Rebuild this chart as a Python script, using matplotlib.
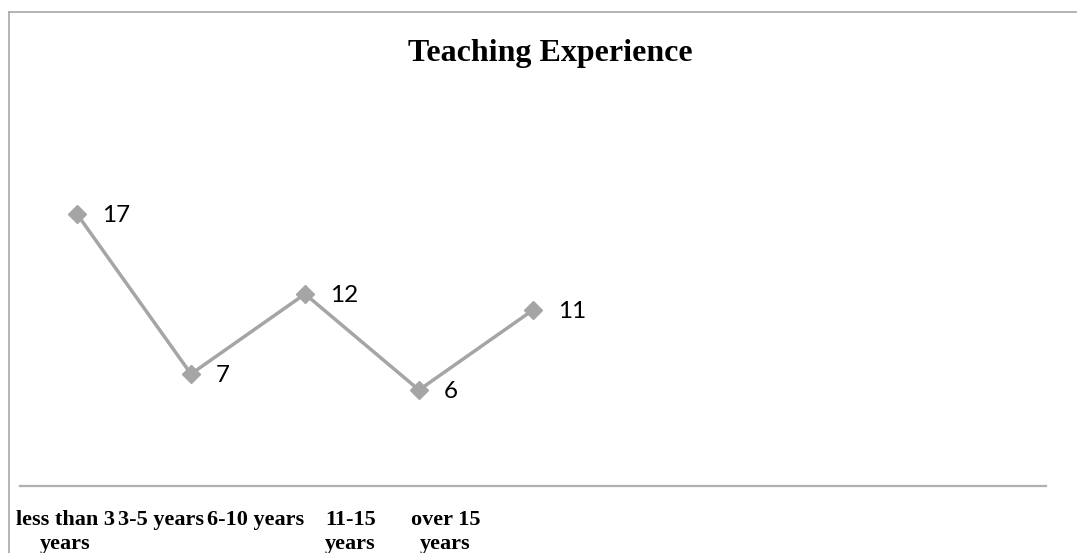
import numpy as np
import matplotlib
matplotlib.use('Agg')
import matplotlib.pyplot as plt
from matplotlib.lines import Line2D

# data
categories = ['less than 3\nyears', '3-5 years', '6-10 years', '11-15\nyears', 'over 15\nyears']
counts = [17, 7, 12, 6, 11]
n_slots = 9  # the category axis is wider than the data

W, H = 1077, 553
fig = plt.figure(figsize=(W / 100, H / 100), dpi=100)
fig.patch.set_facecolor('white')

# plot area in pixel terms
left, right, bottom, top = 20, 1046, 486, 166
ax = fig.add_axes([left / W, 1 - bottom / H, (right - left) / W, (bottom - top) / H])

x = np.arange(len(counts))
ax.plot(x, counts, color='#a5a5a5', lw=2.5, marker='D', markersize=9.5,
        markerfacecolor='#a5a5a5', markeredgecolor='#a5a5a5', solid_capstyle='round')

for xi, v in zip(x, counts):
    ax.annotate(str(v), (xi, v), xytext=(18, 0), textcoords='offset points',
                va='center_baseline', ha='left', fontsize=17.5, family='Lato', color='black')

ax.set_xlim(-0.5, n_slots - 0.5)
ax.set_ylim(0, 20)

# category labels sit a bit left of the points in the reference
label_pos = np.arange(len(categories)) * 0.833 - 0.1
ax.set_xticks(label_pos)
ax.set_xticklabels(categories, family='Liberation Serif', fontweight='bold',
                   fontsize=16, linespacing=1.3)
ax.tick_params(axis='x', length=0, pad=17)
ax.set_yticks([])

for s in ['top', 'left', 'right']:
    ax.spines[s].set_visible(False)
ax.spines['bottom'].set_color('#b0b0b0')
ax.spines['bottom'].set_linewidth(1.6)
ax.set_facecolor('none')

fig.text(550 / W, 1 - 53 / H, 'Teaching Experience', ha='center', va='center',
         family='Liberation Serif', fontweight='bold', fontsize=23)

# chart border (only top and left edges visible in the crop)
bx, by = 8.5 / W, 1 - 11.5 / H
fig.add_artist(Line2D([bx, 1], [by, by], transform=fig.transFigure, color='#a0a0a0', lw=1.1))
fig.add_artist(Line2D([bx, bx], [0, by], transform=fig.transFigure, color='#a0a0a0', lw=1.1))

fig.savefig('out.png', dpi=100)
